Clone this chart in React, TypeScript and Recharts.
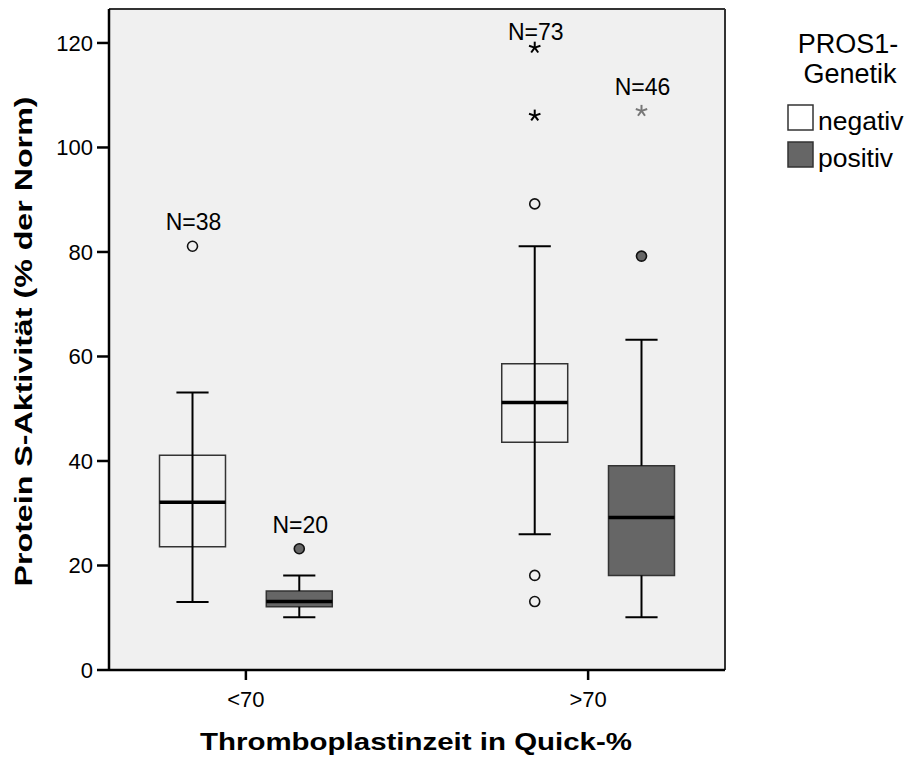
import React from 'react';
import {
  ComposedChart,
  XAxis,
  YAxis,
  CartesianGrid,
  ReferenceArea,
  ReferenceLine,
  Scatter,
  Legend,
} from 'recharts';

// ---------- data ----------
const categories = ['<70', '>70'];
const groupNames = ['negativ', 'positiv'];
const yTicks = [0, 20, 40, 60, 80, 100, 120];

const negMin = [13, 26];
const negQ1 = [23.6, 43.6];
const negMedian = [32.1, 51.2];
const negQ3 = [41.1, 58.6];
const negMax = [53.1, 81.1];
const negN = [38, 73];
const negCircles = [[81.1], [89.2, 18.1, 13.1]];
const negStars = [[], [106.1, 119.1]];

const posMin = [10.1, 10.1];
const posQ1 = [12.1, 18.1];
const posMedian = [13.1, 29.2];
const posQ3 = [15.1, 39.1];
const posMax = [18.1, 63.2];
const posN = [20, 46];
const posCircles = [[23.2], [79.2]];
const posStars = [[], [107]];

// ---------- layout constants ----------
const FONT = '"Liberation Sans", Arial, Helvetica, sans-serif';
const OFFSET = 0.156;
const BOX_HALF = 0.0964;
const CAP_HALF = 0.047;
const Y_MAX = 126.5;
const BG = '#f0f0f0';
const POS_FILL = '#666666';

type Group = {
  name: string;
  sign: number;
  min: number[];
  q1: number[];
  med: number[];
  q3: number[];
  max: number[];
  n: number[];
  circles: number[][];
  stars: number[][];
  fill: string;
  starColor: string;
  circleFill: string;
};

const groups: Group[] = [
  {
    name: groupNames[0], sign: -1, min: negMin, q1: negQ1, med: negMedian, q3: negQ3, max: negMax,
    n: negN, circles: negCircles, stars: negStars, fill: 'none', starColor: '#000', circleFill: BG,
  },
  {
    name: groupNames[1], sign: 1, min: posMin, q1: posQ1, med: posMedian, q3: posQ3, max: posMax,
    n: posN, circles: posCircles, stars: posStars, fill: POS_FILL, starColor: '#777', circleFill: POS_FILL,
  },
];

const xOf = (ci: number, g: Group) => ci + g.sign * OFFSET;

const CircleShape = (fill: string) => (props: any) => {
  const { cx, cy } = props;
  if (cx == null || cy == null) return null;
  return <circle cx={cx} cy={cy} r={5} fill={fill} stroke="#111" strokeWidth={1.6} />;
};

const StarShape = (color: string) => (props: any) => {
  const { cx, cy } = props;
  if (cx == null || cy == null) return null;
  const r = 6;
  const lines = [];
  for (let k = 0; k < 5; k++) {
    const a = (-90 + k * 72) * (Math.PI / 180);
    lines.push(
      <line key={k} x1={cx} y1={cy} x2={cx + r * Math.cos(a)} y2={cy + r * Math.sin(a)} stroke={color} strokeWidth={2} />
    );
  }
  return <g>{lines}</g>;
};

const LabelShape = (props: any) => {
  const { cx, cy, payload } = props;
  if (cx == null || cy == null) return null;
  const center = Math.max(cy - 24, 32);
  return (
    <text x={cx + 1} y={center + 8} textAnchor="middle" fontSize={23} fontFamily={FONT} fill="#000">
      {`N=${payload.n}`}
    </text>
  );
};

const YTitle = (props: any) => {
  const vb = props.viewBox || { x: 0, y: 9, width: 109, height: 661 };
  const cx = 32;
  const cy = vb.y + vb.height / 2 + 2;
  return (
    <text
      transform={`translate(${cx},${cy}) rotate(-90)`}
      textAnchor="middle"
      fontSize={24}
      fontWeight="bold"
      fontFamily={FONT}
      textLength={490}
      lengthAdjust="spacingAndGlyphs"
      fill="#000"
    >
      Protein S-Aktivität (% der Norm)
    </text>
  );
};

const XTitle = (props: any) => {
  const vb = props.viewBox || { x: 109, y: 670, width: 616, height: 90 };
  return (
    <text
      x={vb.x + vb.width / 2 - 1}
      y={vb.y + 80}
      textAnchor="middle"
      fontSize={24}
      fontWeight="bold"
      fontFamily={FONT}
      textLength={432}
      lengthAdjust="spacingAndGlyphs"
      fill="#000"
    >
      Thromboplastinzeit in Quick-%
    </text>
  );
};

const LegendContent = () => (
  <svg width={154} height={180} style={{ display: 'block' }}>
    <text x={88} y={53} textAnchor="middle" fontSize={27} fontFamily={FONT} fill="#000">PROS1-</text>
    <text x={90} y={83} textAnchor="middle" fontSize={27} fontFamily={FONT} fill="#000">Genetik</text>
    <rect x={28} y={105} width={25} height={25} fill="#ffffff" stroke="#333" strokeWidth={1.5} />
    <text x={58} y={130} fontSize={26.5} fontFamily={FONT} fill="#000">{groupNames[0]}</text>
    <rect x={28} y={142} width={25} height={25} fill={POS_FILL} stroke="#333" strokeWidth={1.5} />
    <text x={58} y={167} fontSize={26.5} fontFamily={FONT} fill="#000">{groupNames[1]}</text>
  </svg>
);

export default function App() {
  const elements: React.ReactNode[] = [];

  // whiskers (drawn first)
  groups.forEach((g, gi) => {
    categories.forEach((_, ci) => {
      const x = xOf(ci, g);
      if (g.fill === 'none') {
        elements.push(
          <ReferenceLine key={`w-${gi}-${ci}`} segment={[{ x, y: g.min[ci] }, { x, y: g.max[ci] }]} stroke="#000" strokeWidth={2} />
        );
      } else {
        elements.push(
          <ReferenceLine key={`wl-${gi}-${ci}`} segment={[{ x, y: g.min[ci] }, { x, y: g.q1[ci] }]} stroke="#000" strokeWidth={2} />
        );
        elements.push(
          <ReferenceLine key={`wu-${gi}-${ci}`} segment={[{ x, y: g.q3[ci] }, { x, y: g.max[ci] }]} stroke="#000" strokeWidth={2} />
        );
      }
      elements.push(
        <ReferenceLine key={`cl-${gi}-${ci}`} segment={[{ x: x - CAP_HALF, y: g.min[ci] }, { x: x + CAP_HALF, y: g.min[ci] }]} stroke="#000" strokeWidth={2} />
      );
      elements.push(
        <ReferenceLine key={`cu-${gi}-${ci}`} segment={[{ x: x - CAP_HALF, y: g.max[ci] }, { x: x + CAP_HALF, y: g.max[ci] }]} stroke="#000" strokeWidth={2} />
      );
    });
  });

  // boxes
  groups.forEach((g, gi) => {
    categories.forEach((_, ci) => {
      const x = xOf(ci, g);
      elements.push(
        <ReferenceArea
          key={`b-${gi}-${ci}`}
          x1={x - BOX_HALF}
          x2={x + BOX_HALF}
          y1={g.q1[ci]}
          y2={g.q3[ci]}
          fill={g.fill === 'none' ? BG : g.fill}
          fillOpacity={g.fill === 'none' ? 0 : 1}
          stroke="#333"
          strokeWidth={1.5}
          strokeOpacity={1}
        />
      );
    });
  });

  // medians
  groups.forEach((g, gi) => {
    categories.forEach((_, ci) => {
      const x = xOf(ci, g);
      elements.push(
        <ReferenceLine
          key={`m-${gi}-${ci}`}
          segment={[{ x: x - BOX_HALF, y: g.med[ci] }, { x: x + BOX_HALF, y: g.med[ci] }]}
          stroke="#000"
          strokeWidth={3.5}
        />
      );
    });
  });

  const circleData = groups.map((g) =>
    categories.flatMap((_, ci) => g.circles[ci].map((v) => ({ x: xOf(ci, g), y: v })))
  );
  const starData = groups.map((g) =>
    categories.flatMap((_, ci) => g.stars[ci].map((v) => ({ x: xOf(ci, g), y: v })))
  );
  const labelData = groups.flatMap((g) =>
    categories.map((_, ci) => ({
      x: xOf(ci, g),
      y: Math.max(g.max[ci], ...g.circles[ci], ...g.stars[ci]),
      n: g.n[ci],
    }))
  );

  return (
    <div style={{ width: 914, height: 760 }}>
      <style>{`body{margin:0;}`}</style>
      <ComposedChart
        width={914}
        height={760}
        margin={{ top: 9, right: 189, bottom: 0, left: 0 }}
        style={{ fontFamily: FONT }}
      >
        <CartesianGrid horizontal={false} vertical={false} fill={BG} />
        <XAxis
          type="number"
          dataKey="x"
          domain={[-0.4, 1.4]}
          ticks={[0, 1]}
          tickFormatter={(v: number) => categories[v] ?? ''}
          allowDataOverflow
          height={90}
          tickSize={10}
          tickMargin={11}
          stroke="#000"
          axisLine={{ stroke: '#000', strokeWidth: 2.5 }}
          tickLine={{ stroke: '#000', strokeWidth: 2.5 }}
          tick={{ fill: '#000', fontSize: 22, fontFamily: FONT }}
          label={<XTitle />}
        />
        <YAxis
          type="number"
          dataKey="y"
          domain={[0, Y_MAX]}
          ticks={yTicks}
          allowDataOverflow
          width={109}
          tickSize={12}
          tickMargin={4}
          axisLine={{ stroke: '#000', strokeWidth: 2.5 }}
          tickLine={{ stroke: '#000', strokeWidth: 2.5 }}
          tick={{ fill: '#000', fontSize: 22, fontFamily: FONT }}
          label={<YTitle />}
        />
        <ReferenceLine y={Y_MAX} stroke="#333" strokeWidth={2} ifOverflow="extendDomain" />
        <ReferenceLine x={1.4} stroke="#333" strokeWidth={2} ifOverflow="extendDomain" />
        {elements}
        <Scatter data={circleData[0]} shape={CircleShape(groups[0].circleFill)} isAnimationActive={false} legendType="none" />
        <Scatter data={circleData[1]} shape={CircleShape(groups[1].circleFill)} isAnimationActive={false} legendType="none" />
        <Scatter data={starData[0]} shape={StarShape(groups[0].starColor)} isAnimationActive={false} legendType="none" />
        <Scatter data={starData[1]} shape={StarShape(groups[1].starColor)} isAnimationActive={false} legendType="none" />
        <Scatter data={labelData} shape={LabelShape} isAnimationActive={false} legendType="none" />
        <Legend
          layout="horizontal"
          verticalAlign="middle"
          align="center"
          content={<LegendContent />}
          wrapperStyle={{ position: 'absolute', left: 760, top: 0, width: 154, height: 180 }}
        />
      </ComposedChart>
    </div>
  );
}
